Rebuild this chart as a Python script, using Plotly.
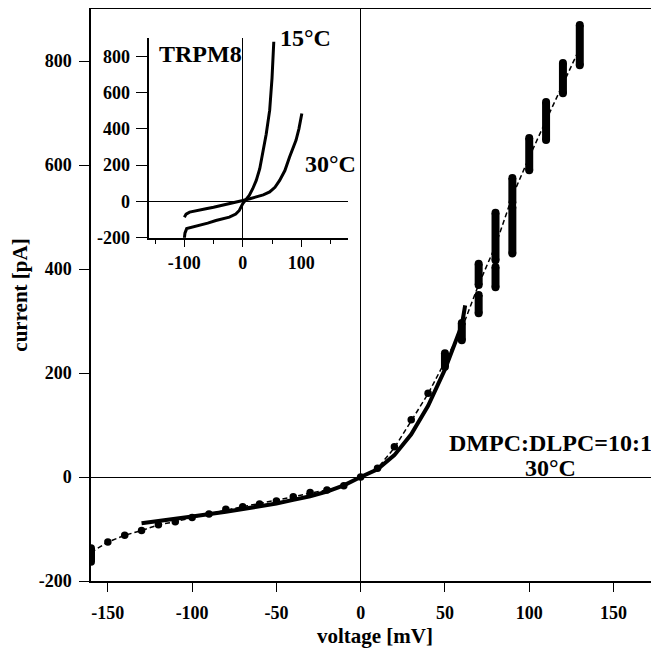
import plotly.graph_objects as go

# ---- main panel data (DMPC:DLPC=10:1, 30°C) ----
fit_v = [-160, -150, -140, -130, -120, -110, -100, -90, -80, -70, -60, -50, -40, -30,
         -20, -10, 0, 10, 20, 30, 40, 50, 60, 70, 80, 90, 100, 110, 120, 130]
fit_i = [-145, -125, -112, -103, -92, -86, -78, -71, -63, -57, -51, -45, -38, -31,
         -25, -17, 0, 17, 56, 108, 160, 222, 285, 370, 445, 540, 615, 686, 757, 825]

dot_v = [-150, -140, -130, -120, -110, -100, -90, -80, -70, -60, -50, -40, -30, -20,
         -10, 0, 10, 20, 30, 40]
dot_i = [-125, -112, -103, -92, -86, -78, -71, -62, -57, -52, -46, -38, -30, -25,
         -17, 0, 17, 58, 110, 161]

blob_v = [-160, 50, 60, 70, 70, 80, 80, 90, 90, 100, 110, 120, 130]
blob_lo = [-163, 212, 263, 315, 369, 365, 417, 430, 527, 590, 648, 738, 792]
blob_hi = [-137, 238, 296, 350, 410, 404, 508, 519, 575, 652, 721, 796, 869]

solid_v = [-130, -120, -100, -80, -60, -50, -40, -30, -20, -10, 0, 10, 20, 30, 40, 50, 60, 62]
solid_i = [-89, -85, -76, -67, -57, -51, -44, -37, -28, -16, 0, 15, 42, 82, 137, 207, 292, 330]

# ---- inset data (TRPM8) ----
t15_v = [-100, -99, -96, -90, -74, -60, -46, -35, -23, -12, -6, 0, 6, 11, 17, 23, 29, 34, 40, 46, 50, 53]
t15_i = [-205, -175, -150, -145, -133, -120, -105, -98, -87, -70, -50, -12, 10, 33, 70, 116, 180, 265, 370, 503, 680, 880]

t30_v = [-100, -97, -91, -80, -63, -50, -35, -20, -11, 0, 12, 23, 35, 46, 55, 63, 72, 80, 86, 91, 96, 101]
t30_i = [-87, -70, -59, -50, -40, -32, -22, -12, -6, 5, 15, 24, 36, 52, 78, 116, 170, 245, 290, 337, 400, 485]

main_xticks = [-150, -100, -50, 0, 50, 100, 150]
main_yticks = [-200, 0, 200, 400, 600, 800]
inset_xticks = [-100, 0, 100]
inset_yticks = [-200, 0, 200, 400, 600, 800]


def labels(vals):
    return ["<b>%d</b>" % v for v in vals]


FONT = "Liberation Serif"

fig = go.Figure()

# dashed fit line
fig.add_trace(go.Scatter(x=fit_v, y=fit_i, mode="lines",
                         line=dict(color="black", width=1.5, dash="5px,3px"),
                         xaxis="x", yaxis="y", hoverinfo="skip"))
# solid model line
fig.add_trace(go.Scatter(x=solid_v, y=solid_i, mode="lines",
                         line=dict(color="black", width=4),
                         xaxis="x", yaxis="y", hoverinfo="skip"))
# data dots
fig.add_trace(go.Scatter(x=dot_v, y=dot_i, mode="markers",
                         marker=dict(color="black", size=7.5),
                         xaxis="x", yaxis="y", hoverinfo="skip"))
# noisy clusters drawn as thick vertical bars
bx, by = [], []
for v, lo, hi in zip(blob_v, blob_lo, blob_hi):
    bx += [v, v, None]
    by += [lo, hi, None]
fig.add_trace(go.Scatter(x=bx, y=by, mode="lines",
                         line=dict(color="black", width=8),
                         xaxis="x", yaxis="y", hoverinfo="skip"))
fig.add_trace(go.Scatter(x=blob_v + blob_v, y=blob_lo + blob_hi, mode="markers",
                         marker=dict(color="black", size=8),
                         xaxis="x", yaxis="y", hoverinfo="skip"))

# inset curves
fig.add_trace(go.Scatter(x=t15_v, y=t15_i, mode="lines",
                         line=dict(color="black", width=3),
                         xaxis="x2", yaxis="y2", hoverinfo="skip"))
fig.add_trace(go.Scatter(x=t30_v, y=t30_i, mode="lines",
                         line=dict(color="black", width=3),
                         xaxis="x2", yaxis="y2", hoverinfo="skip"))

tickfont = dict(family=FONT, size=18, color="black")

fig.update_layout(
    width=651, height=640,
    margin=dict(l=83, r=0, t=1, b=67),
    paper_bgcolor="white", plot_bgcolor="white",
    showlegend=False,
    font=dict(family=FONT, color="black"),
    xaxis=dict(domain=[0, 1], range=[-160, 177], tickvals=main_xticks,
               ticktext=labels(main_xticks), automargin=False,
               ticks="outside", ticklen=9, tickwidth=1.2, tickcolor="black",
               showline=True, linecolor="black", linewidth=1.5, mirror=True,
               showgrid=False, zeroline=True, zerolinecolor="black", zerolinewidth=1.2,
               tickfont=tickfont, ticklabelstandoff=6,
               title=dict(text="<b>voltage [mV]</b>", font=dict(family=FONT, size=21),
                          standoff=14)),
    yaxis=dict(domain=[0, 1], range=[-200, 900], tickvals=main_yticks,
               ticktext=labels(main_yticks), automargin=False,
               ticks="outside", ticklen=10, tickwidth=1.2, tickcolor="black",
               showline=True, linecolor="black", linewidth=1.5,
               showgrid=False, zeroline=True, zerolinecolor="black", zerolinewidth=1.2,
               tickfont=tickfont, ticklabelstandoff=4,
               title=dict(text="<b>current [pA]</b>", font=dict(family=FONT, size=21),
                          standoff=5)),
    xaxis2=dict(domain=[0.1026, 0.4525], range=[-160, 180], anchor="y2",
                tickvals=inset_xticks, ticktext=labels(inset_xticks), automargin=False,
                ticks="outside", ticklen=8, tickwidth=1.2, tickcolor="black",
                minor=dict(tickvals=[-150, -50, 50, 150], ticks="outside", ticklen=5,
                           tickwidth=1.2, tickcolor="black"),
                showline=True, linecolor="black", linewidth=1.5,
                showgrid=False, zeroline=True, zerolinecolor="black", zerolinewidth=1.2,
                tickfont=tickfont),
    yaxis2=dict(domain=[0.6002, 0.949], range=[-200, 900], anchor="x2",
                tickvals=inset_yticks, ticktext=labels(inset_yticks), automargin=False,
                ticks="outside", ticklen=12, tickwidth=1.2, tickcolor="black",
                showline=True, linecolor="black", linewidth=1.5,
                showgrid=False, zeroline=True, zerolinecolor="black", zerolinewidth=1.2,
                tickfont=tickfont, ticklabelstandoff=2),
)

ann_font = dict(family=FONT, size=24, color="black")
fig.add_annotation(x=112.8, y=65, xref="x", yref="y", text="<b>DMPC:DLPC=10:1</b>",
                   showarrow=False, font=ann_font, xanchor="center", yanchor="middle")
fig.add_annotation(x=112.8, y=17, xref="x", yref="y", text="<b>30°C</b>",
                   showarrow=False, font=ann_font, xanchor="center", yanchor="middle")
fig.add_annotation(x=-147, y=815, xref="x2", yref="y2", text="<b>TRPM8</b>",
                   showarrow=False, font=ann_font, xanchor="left", yanchor="middle")
fig.add_annotation(x=60, y=880, xref="x2", yref="y2", text="<b>15°C</b>", yshift=4,
                   showarrow=False, font=ann_font, xanchor="left", yanchor="middle")
fig.add_annotation(x=103, y=209, xref="x2", yref="y2", text="<b>30°C</b>",
                   showarrow=False, font=ann_font, xanchor="left", yanchor="middle")

fig.write_html("out.html")
